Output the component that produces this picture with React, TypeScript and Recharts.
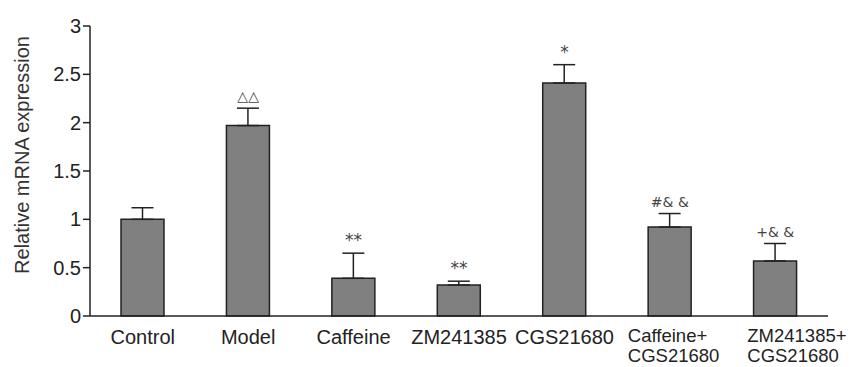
import { BarChart, Bar, XAxis, YAxis, ErrorBar, ReferenceDot } from "recharts";

const groups = [
  "Control",
  "Model",
  "Caffeine",
  "ZM241385",
  "CGS21680",
  "Caffeine+\nCGS21680",
  "ZM241385+\nCGS21680",
];
const means = [1.0, 1.97, 0.39, 0.32, 2.41, 0.92, 0.57];
const sems = [0.12, 0.18, 0.26, 0.04, 0.19, 0.14, 0.18];
const marks = ["", "△△", "**", "**", "*", "#& &", "+& &"];
const yTicks = [0, 0.5, 1, 1.5, 2, 2.5, 3];

const data = groups.map((g, i) => ({
  group: g,
  mean: means[i],
  err: [0, sems[i]],
  top: means[i] + sems[i],
  mark: marks[i],
}));

const font = "Liberation Sans, Arial, sans-serif";

const GroupTick = (props: any) => {
  const { x, y, payload, index } = props;
  const lines = String(payload.value).split("\n");
  if (lines.length === 1) {
    return (
      <text x={x} y={y + 26} textAnchor="middle" fontSize={20} fill="#222" fontFamily={font}>
        {lines[0]}
      </text>
    );
  }
  // two-line labels are left aligned, the last one nudged right
  const left = x - (index === 6 ? 28 : 42);
  return (
    <text x={left} y={y + 24} textAnchor="start" fontSize={18.5} fill="#222" fontFamily={font}>
      {lines.map((l, i) => (
        <tspan key={i} x={left} dy={i === 0 ? 0 : 20}>
          {l}
        </tspan>
      ))}
    </text>
  );
};

const YTitle = (props: any) => {
  const { viewBox } = props;
  const cy = viewBox.y + viewBox.height / 2 - 16;
  return (
    <text
      x={22}
      y={cy}
      transform={`rotate(-90 22 ${cy})`}
      textAnchor="middle"
      dominantBaseline="central"
      fontSize={20}
      fill="#333"
      fontFamily={font}
    >
      Relative mRNA expression
    </text>
  );
};

export default function App() {
  return (
    <div style={{ position: "absolute", left: 0, top: 0, background: "#fff" }}>
      <BarChart
        width={863}
        height={367}
        data={data}
        margin={{ top: 26, right: 35, bottom: 6, left: 28 }}
        barCategoryGap={0}
      >
        <XAxis
          dataKey="group"
          tickLine={false}
          tickSize={0}
          height={45}
          interval={0}
          tick={<GroupTick />}
          axisLine={{ stroke: "#222", strokeWidth: 1.5 }}
        />
        <YAxis
          domain={[0, 3]}
          ticks={yTicks}
          width={62}
          tickSize={7}
          tickMargin={2}
          tickLine={{ stroke: "#222", strokeWidth: 1.5 }}
          axisLine={{ stroke: "#222", strokeWidth: 1.5 }}
          tick={{ fontSize: 20, fill: "#222", fontFamily: font }}
          label={<YTitle />}
        />
        <Bar
          dataKey="mean"
          fill="#808080"
          stroke="#222"
          strokeWidth={1.5}
          barSize={43}
          isAnimationActive={false}
        >
          <ErrorBar dataKey="err" width={11} stroke="#222" strokeWidth={1.5} />
        </Bar>
        {data.map((d) =>
          d.mark ? (
            <ReferenceDot
              key={d.group}
              x={d.group}
              y={d.top}
              r={0}
              stroke="none"
              fill="none"
              label={{
                value: d.mark,
                position: "top",
                offset: 7,
                style: {
                  fontSize: d.mark.includes("*") ? 17 : 14,
                  fill: "#444",
                  fontFamily: "DejaVu Sans, sans-serif",
                },
              }}
            />
          ) : null
        )}
      </BarChart>
    </div>
  );
}
